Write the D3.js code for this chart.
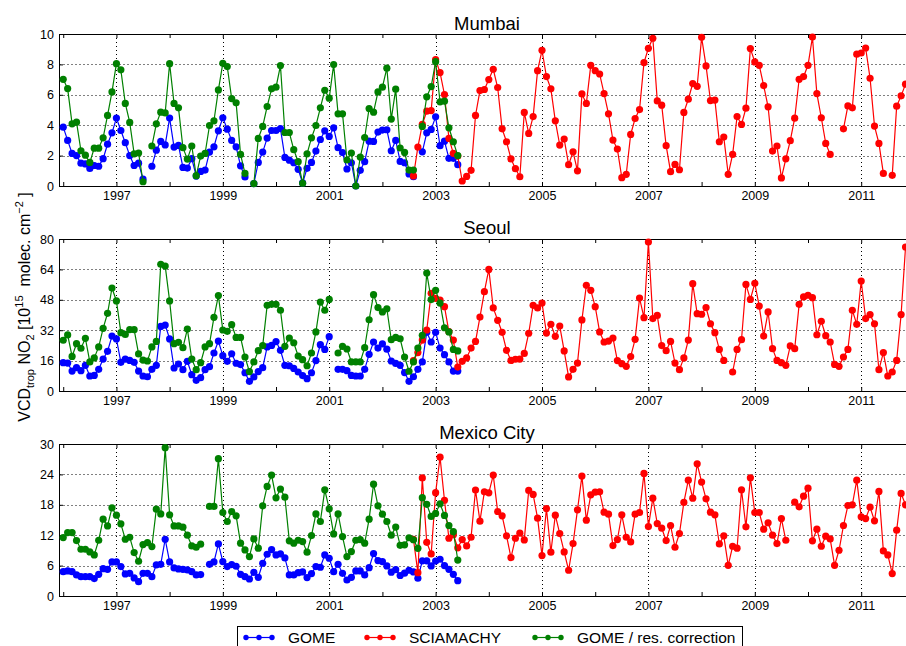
<!DOCTYPE html>
<html>
<head>
<meta charset="utf-8">
<script src="https://cdn.jsdelivr.net/npm/d3@7"></script>
<style>
  body { margin: 0; background: #fff; }
  svg { font-family: "Liberation Sans", Arial, sans-serif; }
</style>
</head>
<body>
<svg id="chart" width="906" height="646"></svg>
<script>
// monthly series, index 0 = Jan 1996
const startYear = 1996;
const sciaStart = 79; // SCIAMACHY starts Aug 2002
const majorYears = [1997, 1999, 2001, 2003, 2005, 2007, 2009, 2011];
const minorYears = [1996, 1998, 2000, 2002, 2004, 2006, 2008, 2010, 2012];
const cities = ["Mumbai", "Seoul", "Mexico City"];
const legendLabels = ["GOME", "SCIAMACHY", "GOME / res. correction"];

const mumbaiTicks = [0, 2, 4, 6, 8, 10];
const seoulTicks = [0, 16, 32, 48, 64, 80];
const mexicoTicks = [0, 6, 12, 18, 24, 30];

const mumbaiGome = [
  3.87, 3.0, 2.14, 2.0, 1.5, 1.45, 1.15, 1.35, 1.3, 1.8, 2.75, 3.5,
  4.47, 3.65, 2.85, 2.0, 1.35, 1.5, 0.45, null, 1.3, 2.36, 2.93, 2.7,
  4.47, 2.56, 2.67, 1.22, 1.18, 1.8, 0.65, 0.96, 1.05, 2.23, 2.58, 3.63,
  4.49, 3.74, 3.0, 2.58, 1.33, 0.6, null, 0.15, 1.55, 2.23, 3.15, 3.65,
  3.65, 3.78, 1.88, 1.7, 1.53, 1.1, 0.2, 1.16, 1.55, 2.3, 3.06, 3.63,
  3.26, 3.83, 2.52, 2.2, 1.12, 1.53, 0.0, 1.03, 1.6, 2.95, 2.93, 3.55,
  3.68, 3.7, 2.32, 3.0, 1.62, 1.53, 0.79, 0.61, null, 2.25, 3.5, 3.72,
  4.55, 2.65, 2.95, 1.82, 1.82, 1.4
];
const mumbaiGomeRes = [
  7.02, 6.41, 4.09, 4.2, 2.32, 2.03, 1.55, 2.49, 2.49, 3.17, 4.64, 6.19,
  8.05, 7.64, 5.43, 4.18, 2.12, 2.17, 0.28, null, 2.63, 4.09, 4.86, 4.81,
  8.05, 5.43, 5.14, 2.52, 1.77, 2.63, 0.68, 1.97, 2.14, 3.98, 4.29, 6.32,
  8.07, 7.86, 5.75, 5.47, 2.08, 0.83, null, 0.15, 3.13, 3.92, 5.23, 6.39,
  6.5, 7.92, 3.52, 3.52, 2.39, 1.6, 0.18, 2.12, 3.17, 3.98, 5.14, 6.3,
  5.78, 7.99, 4.75, 4.75, 1.71, 2.17, 0.0, 1.9, 3.19, 5.1, 4.86, 6.19,
  6.5, 7.75, 4.4, 6.37, 2.5, 2.21, 1.05, 1.05, null, 3.92, 5.87, 6.54,
  8.18, 5.54, 5.58, 3.83, 2.91, 2.0
];
const mumbaiScia = [
  0.66, 2.56, 4.05, 4.92, 4.96, 8.32, 7.46, 6.02, 3.13, 2.15, 1.97,
  0.33, 0.63, 1.03, 4.64, 6.28, 6.35, 7.0, 7.68, 6.48, 3.76, 2.91, 1.79,
  1.14, 0.61, 4.84, 3.46, 4.57, 7.59, 8.93, 7.2, 6.39, 4.29, 2.69, 3.09,
  1.4, 2.25, 1.0, 6.06, 5.43, 7.94, 7.59, 7.37, 6.08, 4.75, 3.02, 2.43,
  0.55, 0.77, 3.39, 4.44, 5.03, 8.12, 9.06, 9.72, 5.6, 5.32, 2.65, 0.94,
  1.42, 1.07, 4.84, 5.71, 6.74, 6.56, 9.78, 7.9, 5.62, 5.65, 2.91, 3.22,
  0.77, 2.08, 4.57, 4.05, 5.12, 9.04, 8.16, 7.94, 6.61, 5.21, 2.3, 2.63,
  0.53, 1.79, 2.98, 4.46, 7.02, 7.2, 7.94, 9.8, 6.08, 4.49, 2.8, 2.08,
  null, null, 3.76, 5.27, 5.14, 8.67, 8.75, 9.08, 7.09, 3.94, 2.8, 0.83,
  null, 0.7, 5.25, 5.93, 6.7
];

const seoulGome = [
  14.9, 14.7, 10.5, 12.3, 10.7, 13.5, 7.9, 8.2, 11.4, 16.8, 20.9, 28.9,
  27.4, 15.1, 16.8, 16.1, 15.1, 10.5, 7.9, 7.5, 11.4, 13.5, 34.0, 34.7,
  27.4, 12.1, 14.2, 11.2, 15.6, 8.6, 5.6, 7.0, 11.2, 12.8, 20.0, 26.3,
  18.6, 15.6, 19.6, 14.6, 13.9, 9.6, 5.1, 7.4, 10.2, 12.3, 23.2, 24.0,
  26.0, 21.4, 13.5, 13.3, 11.9, 10.0, 8.1, 6.5, 9.6, 16.0, 24.4, 21.9,
  28.6, null, 11.4, 11.4, 10.7, 8.2, 7.9, 7.9, 11.4, 19.3, 25.8, 22.6,
  24.8, 22.0, 15.8, 14.5, 13.5, 9.7, 5.1, 7.5, 11.4, 15.3, 30.9, 25.8,
  30.9, 22.6, 19.1, 15.3, 10.5, 10.5
];
const seoulGomeRes = [
  26.7, 29.5, 18.2, 24.9, 22.5, 27.7, 15.3, 17.4, 23.2, 33.0, 40.9, 54.2,
  47.4, 30.7, 29.8, 32.3, 32.3, 19.5, 16.3, 15.8, 23.2, 26.1, 66.7, 65.8,
  47.4, 24.9, 25.6, 22.8, 32.6, 16.8, 11.2, 14.9, 23.2, 24.9, 38.8, 50.2,
  32.1, 31.4, 34.9, 28.2, 28.2, 17.9, 10.2, 15.3, 21.2, 23.9, 45.1, 45.6,
  45.6, 42.5, 23.5, 27.9, 25.4, 18.4, 16.5, 13.3, 20.0, 31.1, 46.8, 42.5,
  48.2, null, 20.0, 23.5, 22.1, 15.3, 15.3, 15.3, 22.8, 37.5, 50.7, 43.9,
  41.6, 43.3, 27.0, 28.2, 27.5, 17.9, 10.4, 15.3, 22.6, 29.3, 62.1, 48.1,
  53.0, 46.3, 33.3, 31.1, 21.9, 21.1
];
const seoulScia = [
  16.0, 20.2, 26.8, 32.1, 51.4, 48.8, 47.9, 44.4, 31.2, 26.8, 12.6,
  15.6, 17.4, 22.6, 26.1, 38.9, 52.3, 64.0, 43.7, 37.2, 30.9, 21.4, 16.1,
  16.7, 16.8, 19.8, 30.4, 45.1, 43.7, 46.3, 30.5, 35.1, 28.8, 34.2, 21.1,
  7.4, 11.4, 14.7, 37.4, 55.6, 53.0, 44.4, 31.1, 25.8, 26.3, 27.9, 16.0,
  14.4, 13.0, 18.1, 27.2, 48.9, 38.6, 78.4, 38.1, 39.8, 23.9, 21.2, 26.1,
  14.7, 11.2, 17.4, 26.8, 56.5, 40.7, 40.4, 43.9, 35.4, 30.7, 21.9, 16.1,
  null, 10.0, 21.9, 27.0, 56.1, 48.2, 56.7, 44.7, 28.9, 41.6, 22.3, 16.1,
  14.9, 13.5, 23.7, 22.3, 45.6, 49.5, 50.4, 49.1, 29.6, 36.7, 29.1, 25.8,
  14.0, 13.0, 17.9, 21.9, 42.5, 35.1, 57.9, 38.1, 40.2, 35.4, 11.2, 20.2,
  7.9, 10.0, 16.1, 40.2, 75.8
];

const mexicoGome = [
  4.81, 4.94, 4.81, 4.15, 3.82, 3.82, 3.82, 3.43, 4.28, 5.4, 5.27, 6.72,
  6.72, 5.8, 4.35, 4.48, 3.56, 2.83, 4.48, 4.48, 3.82, 6.13, 6.26, 11.2,
  6.72, 5.54, 5.34, 5.27, 5.14, 4.81, 4.15, 4.22, null, 6.26, 6.72, 10.28,
  6.79, 5.8, 6.2, 5.87, 4.28, 3.82, 3.36, 4.68, 3.69, 6.46, 8.24, 9.16,
  8.11, 8.31, 7.51, 4.15, 4.15, 4.61, 4.75, 3.63, 4.42, 5.8, 5.67, 8.11,
  7.45, 4.81, 6.26, 4.48, 3.16, 3.69, 4.94, 4.94, 4.15, 5.6, 8.37, 6.99,
  6.8, 5.93, 4.7, 5.2, 4.05, 4.5, 5.08, 4.75, 3.5, 6.95, 6.95, 5.93,
  6.9, 7.25, 6.0, 5.27, 4.28, 3.03
];
const mexicoGomeRes = [
  11.54, 12.52, 12.52, 10.94, 9.23, 9.23, 8.7, 8.11, 11.0, 15.16, 13.84, 17.4,
  15.95, 14.24, 11.2, 11.6, 8.57, 6.86, 10.15, 10.55, 9.76, 17.14, 16.2, 29.27,
  16.02, 13.84, 13.84, 13.58, 12.0, 9.89, 9.62, 10.22, null, 17.67, 17.67, 27.1,
  16.48, 14.7, 16.68, 15.82, 10.42, 9.1, 7.78, 11.27, 9.43, 17.8, 21.62, 23.86,
  19.38, 21.1, 19.51, 10.88, 10.42, 11.0, 10.74, 8.64, 11.93, 16.2, 14.7, 20.96,
  17.2, 12.26, 16.2, 11.73, 7.78, 8.77, 11.0, 11.14, 10.42, 15.16, 22.08, 17.8,
  16.15, 14.7, 12.0, 13.6, 10.0, 10.1, 11.5, 11.1, 9.4, 19.4, 18.1, 15.7,
  16.3, 18.2, 15.9, 13.9, 12.7, 7.1
];
const mexicoScia = [
  11.2, 4.6, 23.3, 10.6, 8.3, 20.4, 27.4, 18.9, 11.4, 12.1, 9.5,
  11.14, 9.89, 11.6, 20.9, 14.77, 20.57, 20.37, 23.86, 16.68, 15.82, 11.87, 7.58,
  11.4, 12.39, 11.07, 20.83, 20.04, 15.36, 7.98, 17.27, 8.64, 15.95, 12.33, 8.7,
  5.08, 10.35, 17.0, 23.67, 14.96, 19.97, 20.5, 20.57, 16.55, 16.15, 9.95, 11.14,
  16.02, 11.6, 10.68, 16.15, 16.48, 24.19, 13.71, 19.31, 14.3, 13.38, 10.94, 13.91,
  9.62, 12.33, 18.46, 22.87, 19.31, 26.1, 22.48, 19.18, 16.55, 16.02, 10.28, 11.87,
  6.06, 9.82, 9.43, 20.96, 13.65, 23.34, 16.48, 16.48, 13.18, 14.44, 12.0, 10.35,
  15.29, 11.0, null, 18.52, 17.6, 19.71, 21.29, 10.88, 13.18, 9.82, 11.8, 11.27,
  6.06, 9.03, 13.91, 17.86, 18.0, 22.87, 15.62, 15.29, 17.53, 14.83, 20.63, 8.9,
  8.11, 4.42, 12.99, 20.24, 18.0
];

const panels = [
  { title: cities[0], ticks: mumbaiTicks, gome: mumbaiGome, res: mumbaiGomeRes, scia: mumbaiScia },
  { title: cities[1], ticks: seoulTicks, gome: seoulGome, res: seoulGomeRes, scia: seoulScia },
  { title: cities[2], ticks: mexicoTicks, gome: mexicoGome, res: mexicoGomeRes, scia: mexicoScia }
];

// layout (pixels)
const layout = [
  { top: 34, bottom: 186, titleY: 30 },
  { top: 239, bottom: 391, titleY: 234 },
  { top: 444, bottom: 596, titleY: 439 }
];
const colors = ["#0000ff", "#ff0000", "#008000"];
const fontFamily = '"Liberation Sans", Arial, sans-serif';

const svg = d3.select("#chart");
const x = d3.scaleLinear().domain([1995.93, 2012]).range([59.5, 914.4]);
const [xLeft, xRight] = x.range();

function toPoints(values, offset) {
  return values.map((v, i) => ({ t: startYear + (offset + i) / 12, v }));
}

panels.forEach((p, k) => {
  const L = layout[k];
  const yMax = d3.max(p.ticks);
  const y = d3.scaleLinear().domain([0, yMax]).range([L.bottom, L.top]);
  const g = svg.append("g");

  // dotted grid
  g.selectAll(".hgrid")
    .data(p.ticks.filter(v => v > 0 && v < yMax))
    .join("line")
    .attr("x1", xLeft).attr("x2", xRight)
    .attr("y1", d => Math.round(y(d)) + 0.5).attr("y2", d => Math.round(y(d)) + 0.5)
    .attr("stroke", "#000").attr("stroke-width", 1).attr("stroke-dasharray", "1,3");
  g.selectAll(".vgrid")
    .data(majorYears)
    .join("line")
    .attr("x1", d => Math.round(x(d)) + 0.5).attr("x2", d => Math.round(x(d)) + 0.5)
    .attr("y1", L.top).attr("y2", L.bottom)
    .attr("stroke", "#000").attr("stroke-width", 1).attr("stroke-dasharray", "1,3");

  // axes
  const bottomAxis = g.append("g")
    .attr("transform", `translate(0,${L.bottom})`)
    .call(d3.axisBottom(x).tickValues(majorYears).tickFormat(d3.format("d"))
      .tickSize(-4).tickSizeOuter(0).tickPadding(5));
  g.append("g")
    .attr("transform", `translate(0,${L.bottom})`)
    .call(d3.axisBottom(x).tickValues(minorYears).tickFormat("").tickSize(-4).tickSizeOuter(0))
    .call(a => a.select(".domain").remove());
  g.append("g")
    .attr("transform", `translate(0,${L.top})`)
    .call(d3.axisTop(x).tickValues(majorYears.concat(minorYears)).tickFormat("")
      .tickSize(-4).tickSizeOuter(0));
  const leftAxis = g.append("g")
    .attr("transform", `translate(${xLeft - 0.5},0)`)
    .call(d3.axisLeft(y).tickValues(p.ticks).tickSize(-4).tickSizeOuter(0).tickPadding(5));

  g.selectAll(".tick text")
    .attr("font-size", 12.5).attr("font-family", fontFamily).attr("fill", "#000");
  g.selectAll(".domain, .tick line").attr("stroke", "#000");

  // series: GOME, SCIAMACHY, GOME / res. correction
  const series = [toPoints(p.gome, 0), toPoints(p.scia, sciaStart), toPoints(p.res, 0)];
  const line = d3.line()
    .defined(d => d.v != null)
    .x(d => x(d.t))
    .y(d => y(d.v));
  series.forEach((pts, s) => {
    g.append("path")
      .datum(pts)
      .attr("d", line)
      .attr("fill", "none")
      .attr("stroke", colors[s])
      .attr("stroke-width", 1.2);
    g.selectAll(null)
      .data(pts.filter(d => d.v != null))
      .join("circle")
      .attr("cx", d => x(d.t))
      .attr("cy", d => y(d.v))
      .attr("r", 3.6)
      .attr("fill", colors[s]);
  });

  // title
  svg.append("text")
    .attr("x", (xLeft + xRight) / 2)
    .attr("y", L.titleY)
    .attr("text-anchor", "middle")
    .attr("font-size", 18.5)
    .attr("font-family", fontFamily)
    .text(p.title);
});

// y label
const yLabel = svg.append("text")
  .attr("transform", "translate(30,307) rotate(-90)")
  .attr("text-anchor", "middle")
  .attr("font-size", 16)
  .attr("font-family", fontFamily);
yLabel.append("tspan").text("VCD");
yLabel.append("tspan").attr("font-size", 11).attr("dy", 4).text("trop");
yLabel.append("tspan").attr("dy", -4).text(" NO");
yLabel.append("tspan").attr("font-size", 11).attr("dy", 4).text("2");
yLabel.append("tspan").attr("dy", -4).text(" [10");
yLabel.append("tspan").attr("font-size", 11).attr("dy", -7).text("15");
yLabel.append("tspan").attr("dy", 7).text("\u00a0 molec. cm");
yLabel.append("tspan").attr("font-size", 11).attr("dy", -7).text("\u22122");
yLabel.append("tspan").attr("dy", 7).text("\u00a0]");

// legend
const legend = svg.append("g");
legend.append("rect")
  .attr("x", 237.5).attr("y", 626.5)
  .attr("width", 505).attr("height", 30)
  .attr("fill", "#fff").attr("stroke", "#000").attr("stroke-width", 1);
const legendX = [246, 367, 535];
legendLabels.forEach((label, s) => {
  const x0 = legendX[s];
  const item = legend.append("g");
  item.append("line")
    .attr("x1", x0).attr("x2", x0 + 26)
    .attr("y1", 637.5).attr("y2", 637.5)
    .attr("stroke", colors[s]).attr("stroke-width", 1.2);
  item.selectAll("circle")
    .data([0, 13, 26])
    .join("circle")
    .attr("cx", d => x0 + d).attr("cy", 637.5).attr("r", 2.7)
    .attr("fill", colors[s]);
  item.append("text")
    .attr("x", x0 + 42).attr("y", 643)
    .attr("font-size", 15.5)
    .attr("font-family", fontFamily)
    .text(label);
});
</script>
</body>
</html>
